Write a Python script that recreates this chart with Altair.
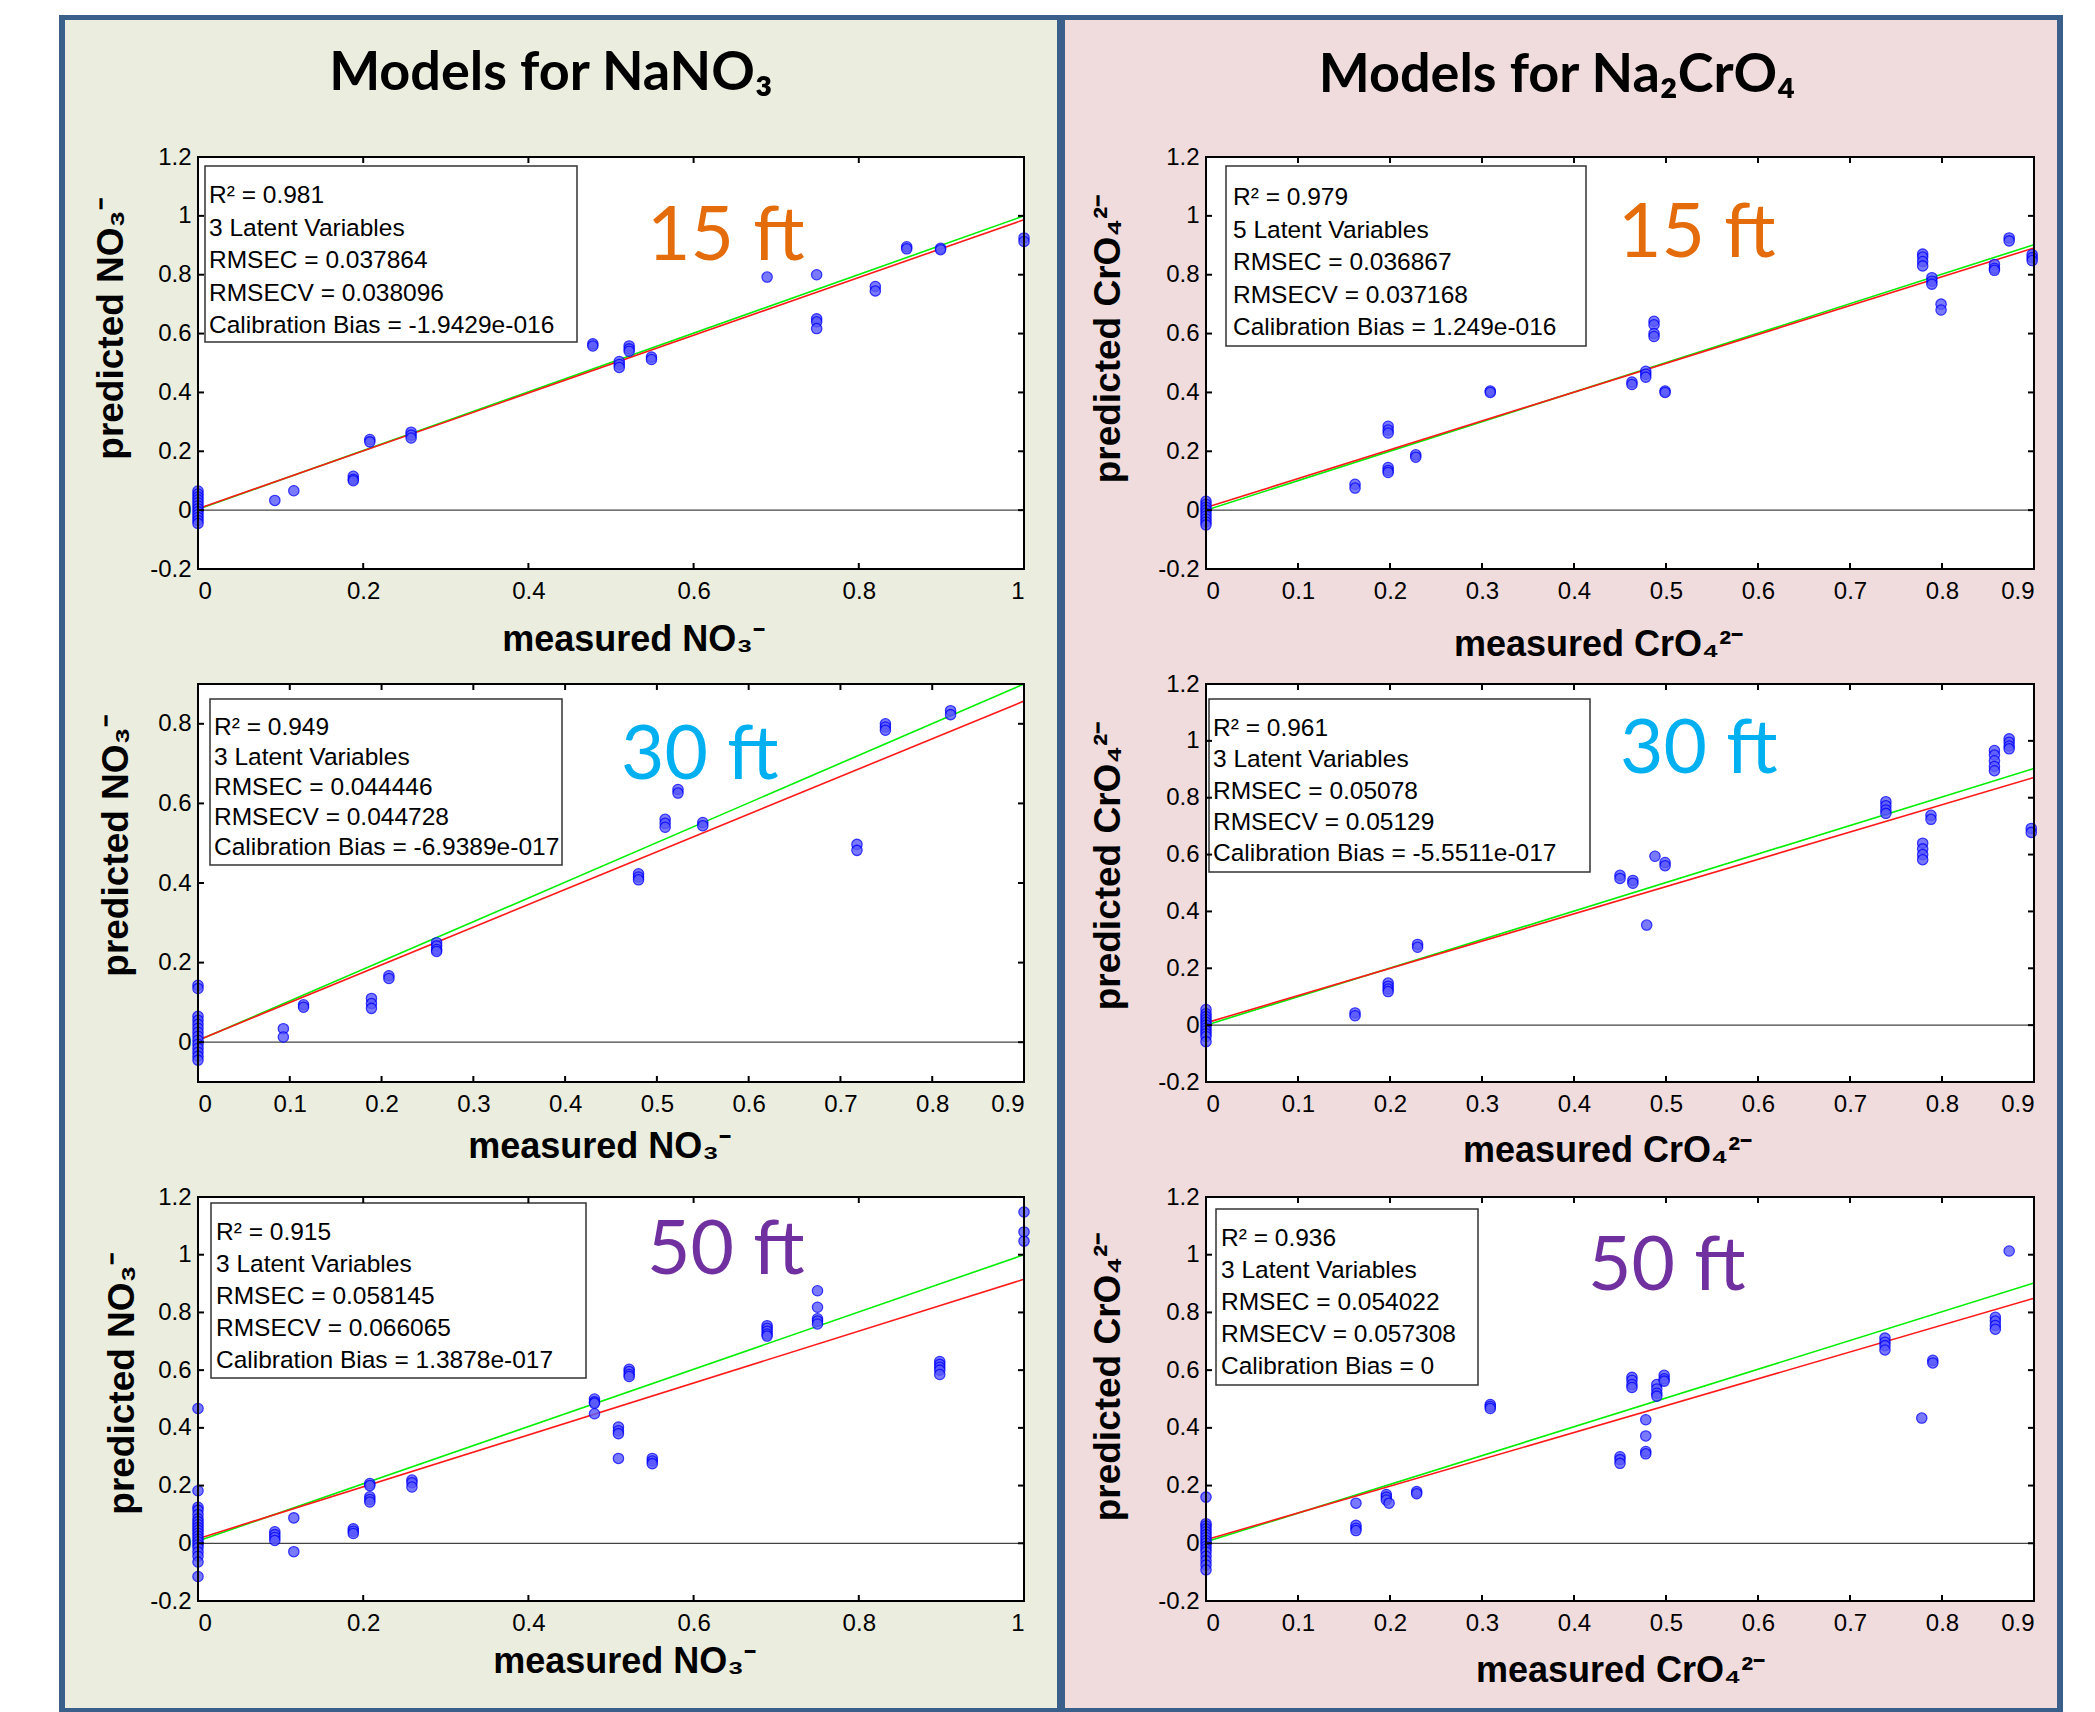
import altair as alt
import pandas as pd

# ---------------- data ----------------
# NaNO3, 15 ft
no3_15_x = [0.0, 0.093, 0.116, 0.188, 0.208, 0.258, 0.478, 0.51, 0.522, 0.549, 0.689, 0.749, 0.82, 0.858, 0.899, 1.0]
no3_15_y = [[0.065, 0.055, 0.045, 0.035, 0.025, 0.015, 0.005, -0.005, -0.015, -0.025, -0.035, -0.045],
            [0.033], [0.066], [0.115, 0.105, 0.1], [0.24, 0.232], [0.265, 0.255, 0.245],
            [0.565, 0.558], [0.505, 0.495, 0.485], [0.558, 0.548, 0.54], [0.52, 0.512],
            [0.792], [0.80, 0.65, 0.64, 0.617], [0.76, 0.745], [0.895, 0.888], [0.89, 0.885], [0.925, 0.913]]
# Na2CrO4, 15 ft
cro4_15_x = [0.0, 0.162, 0.198, 0.228, 0.309, 0.463, 0.478, 0.487, 0.499, 0.779, 0.789, 0.799, 0.857, 0.873, 0.898]
cro4_15_y = [[0.03, 0.02, 0.01, 0.0, -0.01, -0.02, -0.03, -0.04, -0.05],
             [0.088, 0.075], [0.285, 0.272, 0.262, 0.145, 0.135, 0.128], [0.188, 0.18], [0.405, 0.4],
             [0.435, 0.427], [0.472, 0.462, 0.452], [0.642, 0.63, 0.6, 0.59], [0.405, 0.4],
             [0.87, 0.86, 0.845, 0.83], [0.79, 0.778, 0.768], [0.7, 0.68], [0.835, 0.822, 0.815],
             [0.925, 0.915], [0.868, 0.858, 0.848]]
# NaNO3, 30 ft
no3_30_x = [0.0, 0.093, 0.115, 0.189, 0.208, 0.26, 0.48, 0.509, 0.523, 0.55, 0.718, 0.749, 0.82]
no3_30_y = [[0.143, 0.135, 0.065, 0.055, 0.045, 0.035, 0.025, 0.015, 0.005, -0.005, -0.015, -0.025, -0.035, -0.045],
            [0.034, 0.013], [0.094, 0.088], [0.11, 0.097, 0.085], [0.167, 0.16], [0.25, 0.242, 0.233, 0.228],
            [0.423, 0.415, 0.408], [0.56, 0.55, 0.54], [0.635, 0.626], [0.552, 0.544], [0.497, 0.482],
            [0.8, 0.792, 0.784], [0.833, 0.823]]
# Na2CrO4, 30 ft
cro4_30_x = [0.0, 0.162, 0.198, 0.23, 0.45, 0.464, 0.479, 0.488, 0.499, 0.739, 0.779, 0.788, 0.857, 0.873, 0.897]
cro4_30_y = [[0.055, 0.04, 0.03, 0.02, 0.01, 0.0, -0.01, -0.02, -0.03, -0.04, -0.058],
             [0.043, 0.033], [0.148, 0.137, 0.127, 0.118], [0.284, 0.274], [0.527, 0.516], [0.509, 0.499],
             [0.352], [0.594], [0.572, 0.561], [0.786, 0.772, 0.757, 0.745], [0.64, 0.62, 0.6, 0.582],
             [0.738, 0.724], [0.966, 0.95, 0.93, 0.91, 0.895], [1.007, 0.995, 0.982, 0.972], [0.692, 0.678]]
# NaNO3, 50 ft
no3_50_x = [0.0, 0.093, 0.116, 0.188, 0.208, 0.259, 0.48, 0.509, 0.522, 0.55, 0.689, 0.75, 0.898, 1.0]
no3_50_y = [[0.467, 0.182, 0.125, 0.115, 0.1, 0.085, 0.075, 0.065, 0.055, 0.045, 0.035, 0.025, 0.015, 0.005,
             -0.005, -0.015, -0.03, -0.045, -0.065, -0.115],
            [0.04, 0.03, 0.02, 0.01], [0.088, -0.029], [0.05, 0.042, 0.034], [0.207, 0.2, 0.161, 0.152, 0.143],
            [0.219, 0.21, 0.195], [0.5, 0.49, 0.485, 0.449], [0.403, 0.39, 0.38, 0.294],
            [0.603, 0.595, 0.585, 0.578], [0.294, 0.285, 0.276], [0.754, 0.745, 0.735, 0.725, 0.718],
            [0.875, 0.818, 0.778, 0.77, 0.76], [0.63, 0.62, 0.61, 0.6, 0.585], [1.148, 1.079, 1.047]]
# Na2CrO4, 50 ft
cro4_50_x = [0.0, 0.163, 0.196, 0.199, 0.229, 0.309, 0.45, 0.463, 0.478, 0.49, 0.498, 0.738, 0.778, 0.79, 0.858, 0.873]
cro4_50_y = [[0.16, 0.068, 0.06, 0.05, 0.04, 0.03, 0.02, 0.01, 0.0, -0.01, -0.02, -0.03, -0.045, -0.06, -0.075, -0.092],
             [0.139, 0.062, 0.052, 0.044], [0.169, 0.16, 0.15], [0.139], [0.179, 0.172], [0.481, 0.474, 0.467],
             [0.3, 0.29, 0.277], [0.575, 0.565, 0.55, 0.54], [0.428, 0.372, 0.318, 0.31], [0.55, 0.535, 0.52, 0.51],
             [0.582, 0.57, 0.562], [0.711, 0.697, 0.685, 0.67], [0.434], [0.634, 0.625],
             [0.783, 0.77, 0.755, 0.742], [1.013]]

# fit lines: [y at x=0, y at x=max]
no3_15_green, no3_15_red = [0.003, 1.0], [0.005, 0.987]
cro4_15_green, cro4_15_red = [0.0, 0.902], [0.009, 0.891]
no3_30_green, no3_30_red = [0.004, 0.9], [0.005, 0.857]
cro4_30_green, cro4_30_red = [0.0, 0.903], [0.008, 0.871]
no3_50_green, no3_50_red = [0.008, 1.0], [0.016, 0.915]
cro4_50_green, cro4_50_red = [0.005, 0.902], [0.012, 0.849]

# statistics boxes
no3_15_stats = ["R² = 0.981", "3 Latent Variables", "RMSEC = 0.037864", "RMSECV = 0.038096", "Calibration Bias = -1.9429e-016"]
cro4_15_stats = ["R² = 0.979", "5 Latent Variables", "RMSEC = 0.036867", "RMSECV = 0.037168", "Calibration Bias = 1.249e-016"]
no3_30_stats = ["R² = 0.949", "3 Latent Variables", "RMSEC = 0.044446", "RMSECV = 0.044728", "Calibration Bias = -6.9389e-017"]
cro4_30_stats = ["R² = 0.961", "3 Latent Variables", "RMSEC = 0.05078", "RMSECV = 0.05129", "Calibration Bias = -5.5511e-017"]
no3_50_stats = ["R² = 0.915", "3 Latent Variables", "RMSEC = 0.058145", "RMSECV = 0.066065", "Calibration Bias = 1.3878e-017"]
cro4_50_stats = ["R² = 0.936", "3 Latent Variables", "RMSEC = 0.054022", "RMSECV = 0.057308", "Calibration Bias = 0"]

ticks_01 = [0, 0.2, 0.4, 0.6, 0.8, 1.0]
ticks_09 = [0, 0.1, 0.2, 0.3, 0.4, 0.5, 0.6, 0.7, 0.8, 0.9]
yticks_full = [-0.2, 0, 0.2, 0.4, 0.6, 0.8, 1.0, 1.2]
yticks_short = [0, 0.2, 0.4, 0.6, 0.8]

column_titles = ["Models for NaNO₃", "Models for Na₂CrO₄"]
depth_labels = ["15 ft", "30 ft", "50 ft"]
no3_xtitle, no3_ytitle = "measured NO₃⁻", "predicted NO₃⁻"
cro4_xtitle, cro4_ytitle = "measured CrO₄²⁻", "predicted CrO₄²⁻"

# ---------------- styles ----------------
BORDER = "#3a5f8b"
BG_LEFT = "#ebeedf"
BG_RIGHT = "#f0dcdc"
DEPTH_COLORS = ["#e46c0a", "#00b0f0", "#7030a0"]
AX_FONT = "Liberation Sans"
TITLE_FONT = "Lato"
LABEL_EXPR = "datum.value < 0 ? '-' + format(-datum.value, '.1~f') : format(datum.value, '.1~f')"

ONE = pd.DataFrame({"k": [0]})


def expand(xs, ys):
    rows = []
    for x, yl in zip(xs, ys):
        for y in yl:
            rows.append({"x": x, "y": y})
    return pd.DataFrame(rows)


def panel(c):
    w, h = c["w"], c["h"]
    xs = alt.Scale(domain=c["xdom"], nice=False, zero=False)
    ys = alt.Scale(domain=c["ydom"], nice=False, zero=False)
    xaxis = alt.Axis(values=c["xticks"], title=c["xtitle"], labelExpr=LABEL_EXPR, ticks=False, domain=False,
                     grid=False, zindex=1, labelFont=AX_FONT, labelFontSize=24, labelColor="black",
                     labelPadding=10, titleFont=AX_FONT, titleFontSize=36, titleFontWeight="bold",
                     titleColor="black", titleX=c["xt_x"], titleY=c["xt_y"], titleAlign="center",
                     titleBaseline="alphabetic")
    yaxis = alt.Axis(values=c["yticks"], title=c["ytitle"], labelExpr=LABEL_EXPR, ticks=False, domain=False,
                     grid=False, zindex=1, labelFont=AX_FONT, labelFontSize=24, labelColor="black",
                     labelPadding=7, titleFont=AX_FONT, titleFontSize=37, titleFontWeight="bold",
                     titleColor="black", titleX=c["yt_x"], titleY=c["yt_y"], titleAngle=270,
                     titleAlign="center", titleBaseline="middle")

    def X():
        return alt.X("x:Q", scale=xs, axis=xaxis)

    def Y():
        return alt.Y("y:Q", scale=ys, axis=yaxis)

    bx0, bx1, by0, by1 = c["bg_outer"]
    ix0, ix1, iy0, iy1 = c["bg_inner"]
    layers = []
    layers.append(alt.Chart(ONE).mark_rect(color=BORDER).encode(
        x=alt.value(bx0), x2=alt.value(bx1), y=alt.value(by0), y2=alt.value(by1)))
    layers.append(alt.Chart(ONE).mark_rect(color=c["bg"]).encode(
        x=alt.value(ix0), x2=alt.value(ix1), y=alt.value(iy0), y2=alt.value(iy1)))
    layers.append(alt.Chart(ONE).mark_rect(color="white").encode(
        x=alt.value(0), x2=alt.value(w), y=alt.value(0), y2=alt.value(h)))
    if c.get("title"):
        tx, ty = c["title_pos"]
        layers.append(alt.Chart(ONE).mark_text(text=c["title"], font=TITLE_FONT, fontSize=54,
                                               fontWeight="bold", color="black", align="center",
                                               baseline="alphabetic").encode(
            x=alt.value(tx), y=alt.value(ty)))
    # zero line
    layers.append(alt.Chart(pd.DataFrame({"y": [0.0]})).mark_rule(color="#444444", strokeWidth=1.2).encode(
        y=Y(), x=alt.value(0), x2=alt.value(w)))
    xmax = c["xdom"][1]
    layers.append(alt.Chart(pd.DataFrame({"x": [0.0, xmax], "y": c["green"]})).mark_line(
        color="#00ee00", strokeWidth=1.6).encode(x=X(), y=Y()))
    layers.append(alt.Chart(pd.DataFrame({"x": [0.0, xmax], "y": c["red"]})).mark_line(
        color="#ff1a1a", strokeWidth=1.6).encode(x=X(), y=Y()))
    # stats box
    sx0, sx1, sy0, sy1 = c["box"]
    layers.append(alt.Chart(ONE).mark_rect(fill="white", stroke="#333333", strokeWidth=1.5).encode(
        x=alt.value(sx0), x2=alt.value(sx1), y=alt.value(sy0), y2=alt.value(sy1)))
    tlx, tly, lh = c["text_pos"]
    layers.append(alt.Chart(ONE).mark_text(text="\n".join(c["stats"]), lineBreak="\n", lineHeight=lh,
                                           font=AX_FONT, fontSize=24.5, color="black", align="left",
                                           baseline="alphabetic").encode(x=alt.value(tlx), y=alt.value(tly)))
    dx, dy = c["depth_pos"]
    layers.append(alt.Chart(ONE).mark_text(text=c["depth"], font=TITLE_FONT, fontSize=75,
                                           color=c["depth_color"], align="left",
                                           baseline="alphabetic").encode(x=alt.value(dx), y=alt.value(dy)))
    # points
    layers.append(alt.Chart(expand(c["px"], c["py"])).mark_circle(
        size=105, color="#5a5aff", opacity=0.8, stroke="#0000ff", strokeWidth=1.3).encode(x=X(), y=Y()))
    # frame
    layers.append(alt.Chart(ONE).mark_rect(fillOpacity=0, stroke="black", strokeWidth=2).encode(
        x=alt.value(0), x2=alt.value(w), y=alt.value(0), y2=alt.value(h)))
    # inward ticks
    xt = pd.DataFrame({"x": c["xticks"]})
    yt = pd.DataFrame({"y": c["yticks"]})
    layers.append(alt.Chart(xt).mark_rule(color="black", strokeWidth=2).encode(
        x=X(), y=alt.value(h), y2=alt.value(h - 6)))
    layers.append(alt.Chart(xt).mark_rule(color="black", strokeWidth=2).encode(
        x=X(), y=alt.value(0), y2=alt.value(6)))
    layers.append(alt.Chart(yt).mark_rule(color="black", strokeWidth=2).encode(
        y=Y(), x=alt.value(0), x2=alt.value(6)))
    layers.append(alt.Chart(yt).mark_rule(color="black", strokeWidth=2).encode(
        y=Y(), x=alt.value(w - 6), x2=alt.value(w)))
    return alt.layer(*layers).properties(width=w, height=h)


WL, WR = 826, 828
H1, H2, H3 = 412, 398, 404
VS = 115
HS = 182

left_specs = [
    dict(w=WL, h=H1, xdom=[0, 1], ydom=[-0.2, 1.2], xticks=ticks_01, yticks=yticks_full,
         xtitle=no3_xtitle, ytitle=no3_ytitle, xt_x=435, xt_y=81, yt_x=-87, yt_y=171,
         bg=BG_LEFT, bg_outer=[-139, 863, -142, H1 + VS], bg_inner=[-133, 859, -137, H1 + VS],
         title=column_titles[0], title_pos=[353, -67],
         green=no3_15_green, red=no3_15_red, box=[7, 379, 9, 185], text_pos=[11, 46, 32.5],
         stats=no3_15_stats, depth=depth_labels[0], depth_color=DEPTH_COLORS[0], depth_pos=[449, 103],
         px=no3_15_x, py=no3_15_y),
    dict(w=WL, h=H2, xdom=[0, 0.9], ydom=[-0.1, 0.9], xticks=ticks_09, yticks=yticks_short,
         xtitle=no3_xtitle, ytitle=no3_ytitle, xt_x=401, xt_y=75, yt_x=-82, yt_y=161,
         bg=BG_LEFT, bg_outer=[-139, 863, -1, H2 + VS], bg_inner=[-133, 859, -1, H2 + VS],
         green=no3_30_green, red=no3_30_red, box=[12, 364, 15, 181], text_pos=[16, 51, 30],
         stats=no3_30_stats, depth=depth_labels[1], depth_color=DEPTH_COLORS[1], depth_pos=[423, 95],
         px=no3_30_x, py=no3_30_y),
    dict(w=WL, h=H3, xdom=[0, 1], ydom=[-0.2, 1.2], xticks=ticks_01, yticks=yticks_full,
         xtitle=no3_xtitle, ytitle=no3_ytitle, xt_x=426, xt_y=71, yt_x=-76, yt_y=186,
         bg=BG_LEFT, bg_outer=[-139, 863, -1, 515], bg_inner=[-133, 859, -1, 511],
         green=no3_50_green, red=no3_50_red, box=[13, 388, 6, 181], text_pos=[18, 43, 32],
         stats=no3_50_stats, depth=depth_labels[2], depth_color=DEPTH_COLORS[2], depth_pos=[449, 77],
         px=no3_50_x, py=no3_50_y),
]

right_specs = [
    dict(w=WR, h=H1, xdom=[0, 0.9], ydom=[-0.2, 1.2], xticks=ticks_09, yticks=yticks_full,
         xtitle=cro4_xtitle, ytitle=cro4_ytitle, xt_x=392, xt_y=86, yt_x=-98, yt_y=181,
         bg=BG_RIGHT, bg_outer=[-145, 857, -142, H1 + VS], bg_inner=[-141, 851, -137, H1 + VS],
         title=column_titles[1], title_pos=[351, -65],
         green=cro4_15_green, red=cro4_15_red, box=[20, 380, 9, 189], text_pos=[27, 48, 32.5],
         stats=cro4_15_stats, depth=depth_labels[0], depth_color=DEPTH_COLORS[0], depth_pos=[412, 100],
         px=cro4_15_x, py=cro4_15_y),
    dict(w=WR, h=H2, xdom=[0, 0.9], ydom=[-0.2, 1.2], xticks=ticks_09, yticks=yticks_full,
         xtitle=cro4_xtitle, ytitle=cro4_ytitle, xt_x=401, xt_y=79, yt_x=-98, yt_y=181,
         bg=BG_RIGHT, bg_outer=[-145, 857, -1, H2 + VS], bg_inner=[-141, 851, -1, H2 + VS],
         green=cro4_30_green, red=cro4_30_red, box=[3, 384, 15, 188], text_pos=[7, 52, 31.3],
         stats=cro4_30_stats, depth=depth_labels[1], depth_color=DEPTH_COLORS[1], depth_pos=[414, 89],
         px=cro4_30_x, py=cro4_30_y),
    dict(w=WR, h=H3, xdom=[0, 0.9], ydom=[-0.2, 1.2], xticks=ticks_09, yticks=yticks_full,
         xtitle=cro4_xtitle, ytitle=cro4_ytitle, xt_x=414, xt_y=80, yt_x=-98, yt_y=179,
         bg=BG_RIGHT, bg_outer=[-145, 857, -1, 515], bg_inner=[-141, 851, -1, 511],
         green=cro4_50_green, red=cro4_50_red, box=[10, 272, 12, 188], text_pos=[15, 49, 32],
         stats=cro4_50_stats, depth=depth_labels[2], depth_color=DEPTH_COLORS[2], depth_pos=[382, 93],
         px=cro4_50_x, py=cro4_50_y),
]

cells = []
for ls, rs in zip(left_specs, right_specs):
    cells.append(panel(ls))
    cells.append(panel(rs))

chart = alt.concat(*cells, columns=2, spacing=alt.RowColnumber(row=VS, column=HS), bounds="flush").properties(
    padding={"left": 59, "top": 15, "right": 0, "bottom": 0},
    background="white",
).configure_view(strokeWidth=0)

chart.save("out.html", embed_options={"renderer": "svg", "actions": False})
